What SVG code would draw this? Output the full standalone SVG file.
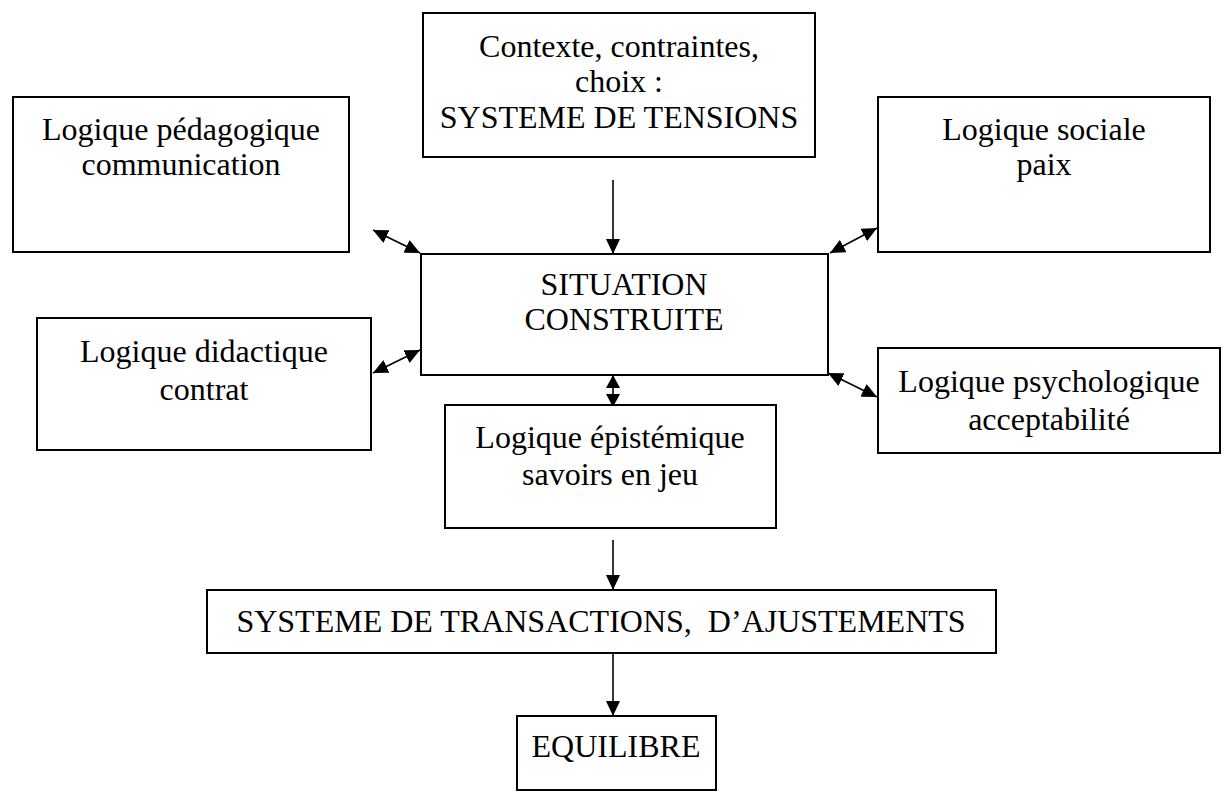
<svg xmlns="http://www.w3.org/2000/svg" width="1227" height="800" viewBox="0 0 1227 800">
<style>
.box{fill:#fff;stroke:#000;stroke-width:2}
.c{stroke:#000;stroke-width:1.6;fill:none}
</style>
<defs>
<marker id="ah" markerUnits="userSpaceOnUse" markerWidth="16" markerHeight="14" refX="15" refY="7" orient="auto-start-reverse" viewBox="0 0 16 14">
<path d="M0,0 L15,7 L0,14 Z" fill="#000"/>
</marker>
<marker id="ahs" markerUnits="userSpaceOnUse" markerWidth="14" markerHeight="14" refX="13" refY="7" orient="auto-start-reverse" viewBox="0 0 14 14">
<path d="M0,0 L13,7 L0,14 Z" fill="#000"/>
</marker>
</defs>
<rect width="1227" height="800" fill="#fff"/>
<g id="connectors">
<line class="c" x1="613" y1="180" x2="613" y2="254" marker-end="url(#ah)"/>
<line class="c" x1="613" y1="375" x2="613" y2="407" marker-start="url(#ahs)" marker-end="url(#ahs)"/>
<line class="c" x1="613" y1="540" x2="613" y2="590" marker-end="url(#ah)"/>
<line class="c" x1="613" y1="653" x2="613" y2="716" marker-end="url(#ah)"/>
<line class="c" x1="373" y1="230" x2="420" y2="253" marker-start="url(#ah)" marker-end="url(#ah)"/>
<line class="c" x1="420" y1="350" x2="373" y2="373" marker-start="url(#ah)" marker-end="url(#ah)"/>
<line class="c" x1="877" y1="228" x2="830" y2="253" marker-start="url(#ah)" marker-end="url(#ah)"/>
<line class="c" x1="828" y1="373" x2="877" y2="397" marker-start="url(#ah)" marker-end="url(#ah)"/>
</g>
<g font-family="Liberation Serif, Times New Roman, DejaVu Serif, serif" font-size="32" fill="#000" text-anchor="middle">
<g id="n-tensions">
<rect class="box" x="423" y="13" width="392" height="144"/>
<text x="619" y="57">Contexte, contraintes,</text>
<text x="619" y="92">choix :</text>
<text x="619" y="128">SYSTEME DE TENSIONS</text>
</g>
<g id="n-pedagogique">
<rect class="box" x="13" y="97" width="336" height="155"/>
<text x="181" y="140">Logique pédagogique</text>
<text x="181" y="175">communication</text>
</g>
<g id="n-sociale">
<rect class="box" x="878" y="97" width="332" height="155"/>
<text x="1044" y="140">Logique sociale</text>
<text x="1044" y="175">paix</text>
</g>
<g id="n-situation">
<rect class="box" x="421" y="254" width="407" height="121"/>
<text x="624" y="295">SITUATION</text>
<text x="624" y="330">CONSTRUITE</text>
</g>
<g id="n-didactique">
<rect class="box" x="37" y="318" width="334" height="132"/>
<text x="204" y="362">Logique didactique</text>
<text x="204" y="400">contrat</text>
</g>
<g id="n-psychologique">
<rect class="box" x="878" y="348" width="342" height="105"/>
<text x="1049" y="392">Logique psychologique</text>
<text x="1049" y="430">acceptabilité</text>
</g>
<g id="n-epistemique">
<rect class="box" x="445" y="405" width="331" height="123"/>
<text x="610" y="448">Logique épistémique</text>
<text x="610" y="485">savoirs en jeu</text>
</g>
<g id="n-transactions">
<rect class="box" x="207" y="590" width="789" height="63"/>
<text x="601" y="632" xml:space="preserve">SYSTEME DE TRANSACTIONS,  D’AJUSTEMENTS</text>
</g>
<g id="n-equilibre">
<rect class="box" x="517" y="716" width="199" height="74"/>
<text x="616" y="757">EQUILIBRE</text>
</g>
</g>
</svg>
